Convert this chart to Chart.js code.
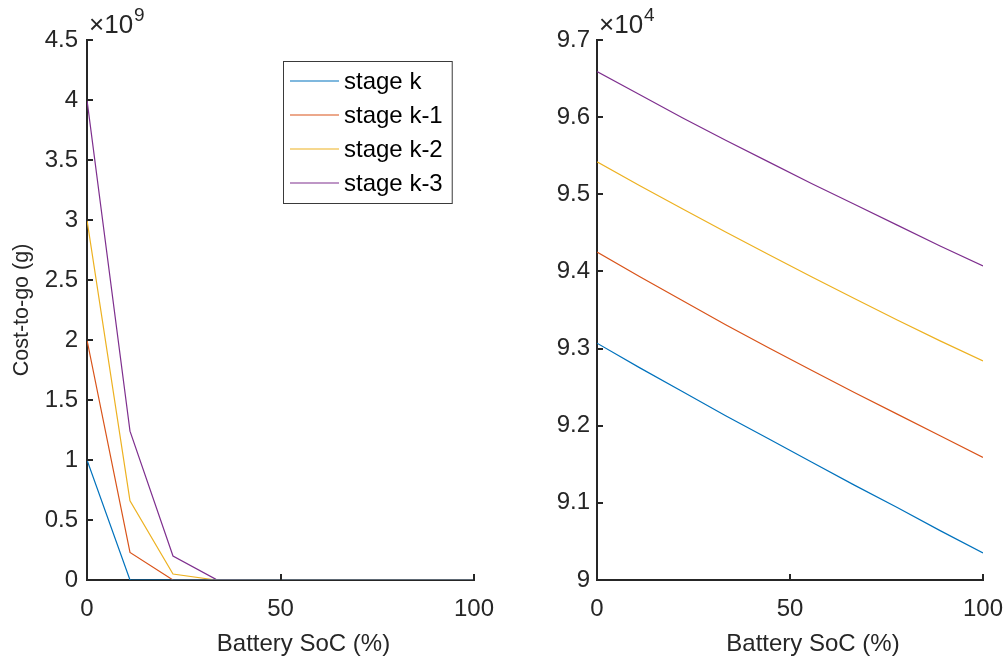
<!DOCTYPE html>
<html>
<head>
<meta charset="utf-8">
<script src="https://cdn.jsdelivr.net/npm/chart.js@4/dist/chart.umd.min.js"></script>
<style>
  html, body { margin: 0; padding: 0; background: #fff; }
  #wrap { position: relative; width: 1006px; height: 660px; }
  .pane { position: absolute; top: 0; width: 503px; height: 660px; }
  #left { left: 0; }
  #right { left: 503px; }
</style>
</head>
<body>
<div id="wrap">
  <div class="pane" id="left"><canvas id="costFull"></canvas></div>
  <div class="pane" id="right"><canvas id="costZoom"></canvas></div>
</div>
<script>
// battery state-of-charge grid (%)
const soc = [0, 11.11, 22.22, 33.33, 44.44, 55.56, 66.67, 77.78, 88.89, 100];
const stageLabels = ['stage k', 'stage k-1', 'stage k-2', 'stage k-3'];
const stageColors = ['#0072BD', '#D95319', '#EDB120', '#7E2F8E'];

// cost-to-go including infeasibility penalty (g)
const fullK  = [1.0e9, 0, 0, 0, 0, 0, 0, 0, 0, 0];
const fullK1 = [2.0e9, 0.23e9, 0, 0, 0, 0, 0, 0, 0, 0];
const fullK2 = [3.0e9, 0.66e9, 0.05e9, 0, 0, 0, 0, 0, 0, 0];
const fullK3 = [4.0e9, 1.24e9, 0.20e9, 0.006e9, 0, 0, 0, 0, 0, 0];

// cost-to-go, feasible part (g)
const zoomK  = [93070, 92750, 92440, 92130, 91830, 91530, 91230, 90940, 90640, 90350];
const zoomK1 = [94250, 93930, 93620, 93310, 93010, 92720, 92430, 92150, 91870, 91590];
const zoomK2 = [95420, 95110, 94810, 94510, 94220, 93930, 93650, 93370, 93100, 92840];
const zoomK3 = [96590, 96290, 95990, 95700, 95420, 95140, 94870, 94600, 94330, 94070];

const xTitle = 'Battery SoC (%)';
const yTitleLeft = 'Cost-to-go (g)';

const FONT = '"Liberation Sans", Arial, Helvetica, sans-serif';
const INK = '#262626';
const FS = 24;

function toPoints(vals) {
  return vals.map((v, i) => ({ x: soc[i], y: v }));
}

function makeDatasets(series) {
  return series.map((vals, i) => ({
    label: stageLabels[i],
    data: toPoints(vals),
    borderColor: stageColors[i],
    backgroundColor: stageColors[i],
    borderWidth: 1.2,
    pointRadius: 0,
    tension: 0
  }));
}

// inward tick marks, x label and the x10^n multiplier above the y axis
const matlabAxes = {
  id: 'matlabAxes',
  afterDraw(chart, args, opts) {
    const { ctx, chartArea } = chart;
    const sx = chart.scales.x, sy = chart.scales.y;
    ctx.save();
    ctx.strokeStyle = INK;
    ctx.lineWidth = 2;
    ctx.beginPath();
    sx.ticks.forEach(t => {
      const px = Math.round(sx.getPixelForValue(t.value));
      ctx.moveTo(px, chartArea.bottom);
      ctx.lineTo(px, chartArea.bottom - 6);
    });
    sy.ticks.forEach(t => {
      const py = Math.round(sy.getPixelForValue(t.value));
      ctx.moveTo(chartArea.left, py);
      ctx.lineTo(chartArea.left + 6, py);
    });
    ctx.stroke();

    ctx.fillStyle = INK;
    ctx.textBaseline = 'alphabetic';
    ctx.textAlign = 'center';
    ctx.font = FS + 'px ' + FONT;
    ctx.fillText(xTitle, (chartArea.left + chartArea.right) / 2 + 23, chartArea.bottom + 71);

    ctx.textAlign = 'left';
    ctx.font = '26px ' + FONT;
    const x0 = chartArea.left + 2;
    ctx.fillText('\u00d710', x0, chartArea.top - 7);
    const w = ctx.measureText('\u00d710').width;
    ctx.font = '19px ' + FONT;
    ctx.fillText(String(opts.exponent), x0 + w + 1, chartArea.top - 19);
    ctx.restore();
  }
};

// boxed legend inside the axes
const boxLegend = {
  id: 'boxLegend',
  afterDraw(chart, args, opts) {
    if (!opts.show) return;
    const { ctx, chartArea } = chart;
    const sets = chart.data.datasets;
    ctx.save();
    ctx.font = FS + 'px ' + FONT;
    const textW = Math.max(...sets.map(d => ctx.measureText(d.label).width));
    const left = chartArea.left + opts.dx;
    const top = chartArea.top + opts.dy;
    const rowH = 34;
    const boxW = 7 + 49 + 5 + textW + 9;
    const boxH = rowH * sets.length + 6;
    ctx.fillStyle = '#fff';
    ctx.fillRect(left, top, boxW, boxH);
    ctx.strokeStyle = '#3a3a3a';
    ctx.lineWidth = 1;
    ctx.strokeRect(left + 0.5, top + 0.5, boxW, boxH);
    ctx.textBaseline = 'middle';
    sets.forEach((d, i) => {
      const cy = top + 20 + i * rowH;
      ctx.strokeStyle = d.borderColor;
      ctx.lineWidth = 1.2;
      ctx.beginPath();
      ctx.moveTo(left + 7, cy);
      ctx.lineTo(left + 56, cy);
      ctx.stroke();
      ctx.fillStyle = '#000';
      ctx.fillText(d.label, left + 61, cy + 1);
    });
    ctx.restore();
  }
};

function buildChart(canvasId, series, yMin, yMax, yStep, exponent, yTitle, yWidth, tickPad, padRight, legend) {
  const ctx = document.getElementById(canvasId).getContext('2d');
  return new Chart(ctx, {
    type: 'line',
    data: { datasets: makeDatasets(series) },
    options: {
      responsive: true,
      maintainAspectRatio: false,
      animation: false,
      layout: { padding: { top: 40, right: padRight, left: 0, bottom: 0 } },
      plugins: {
        legend: { display: false },
        tooltip: { enabled: false },
        matlabAxes: { exponent: exponent },
        boxLegend: legend
      },
      scales: {
        x: {
          type: 'linear',
          min: 0, max: 100,
          afterFit: s => { s.height = 80; s.paddingLeft = 0; s.paddingRight = 0; },
          grid: { display: true, drawOnChartArea: false, drawTicks: false },
          border: { display: true, color: INK, width: 2 },
          ticks: { stepSize: 50, padding: 15, color: INK, font: { family: FONT, size: FS } }
        },
        y: {
          min: yMin, max: yMax,
          afterFit: s => { s.width = yWidth; s.paddingTop = 0; s.paddingBottom = 0; },
          grid: { display: true, drawOnChartArea: false, drawTicks: false },
          border: { display: true, color: INK, width: 2 },
          ticks: {
            stepSize: yStep, padding: tickPad, color: INK,
            font: { family: FONT, size: FS },
            callback: v => String(+(v / Math.pow(10, exponent)).toFixed(2))
          },
          title: { display: !!yTitle, text: yTitle, color: INK, font: { family: FONT, size: 21.5 }, padding: { top: 9, bottom: 0 } }
        }
      }
    },
    plugins: [matlabAxes, boxLegend]
  });
}

buildChart('costFull', [fullK, fullK1, fullK2, fullK3], 0, 4.5e9, 0.5e9, 9,
  yTitleLeft, 87, 9, 29, { show: true, dx: 196, dy: 21 });
buildChart('costZoom', [zoomK, zoomK1, zoomK2, zoomK3], 90000, 97000, 1000, 4,
  '', 94, 7, 23, { show: false });
</script>
</body>
</html>
